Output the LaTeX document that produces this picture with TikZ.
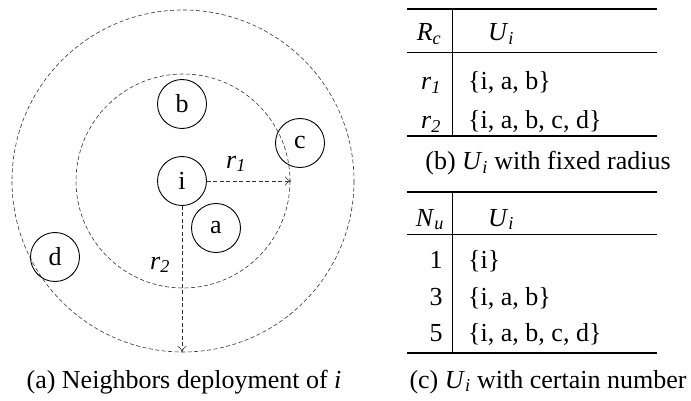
\documentclass[tikz,border=0pt]{standalone}
\usepackage{fontspec}
\setmainfont{Liberation Serif}
\usetikzlibrary{arrows.meta, positioning}

\begin{document}
\begin{tikzpicture}[
    x=1pt, y=-1pt,
    font=\fontsize{26}{30}\selectfont,
    peer/.style={circle, draw, line width=0.9pt, minimum size=49pt, inner sep=0pt},
    reach/.style={draw, dashed, dash pattern=on 4pt off 2.5pt, line width=0.6pt, black!80},
    reacharrow/.style={reach, -{To[length=6pt, width=9pt]}},
    heavyrule/.style={line width=1.6pt},
    lightrule/.style={line width=0.7pt},
    cell/.style={inner sep=0pt, anchor=base},
]
\useasboundingbox (0,0) rectangle (691,401);

% Communication ranges
\draw[reach] (183,181) circle (107);
\draw[reach] (183,181) circle (171);

% Users
\node[peer] (i) at (182,181) {i};
\node[peer] (b) at (182,104) {b};
\node[peer] (c) at (300,143) {c};
\node[peer] (a) at (216,228) {a};
\node[peer] (d) at (55,257) {d};

\coordinate (r1end) at (291,181);
\coordinate (r2end) at (182,352);
\draw[reacharrow] (i) -- (r1end);
\draw[reacharrow] (i) -- (r2end);
\node (r1) at (236,164) {\textit{r}\textsubscript{\textit{1}}};
\node (r2) at (160,265) {\textit{r}\textsubscript{\textit{2}}};

\node (capa) at (184,382) {(a) Neighbors deployment of \textit{i}};

% Table (b): fixed radius
\draw[heavyrule] (407,9) -- (657,9);
\draw[lightrule] (407,52) -- (657,52);
\draw[heavyrule] (407,136) -- (657,136);
\draw[lightrule] (452,9) -- (452,136);
\node[cell] (rc) at (429,41) {\textit{R}\textsubscript{\textit{c}}};
\node[cell] (ub) at (501,41) {\textit{U}\textsubscript{\textit{i}}};
\node[cell] (rowb1) at (431,90) {\textit{r}\textsubscript{\textit{1}}};
\node[cell, anchor=base west] (setb1) at (468,90) {\{i, a, b\}};
\node[cell] (rowb2) at (431,129) {\textit{r}\textsubscript{\textit{2}}};
\node[cell, anchor=base west] (setb2) at (468,129) {\{i, a, b, c, d\}};
\node (capb) at (548,163) {(b) \textit{U}\textsubscript{\textit{i}} with fixed radius};

% Table (c): certain number
\draw[heavyrule] (407,192) -- (657,192);
\draw[lightrule] (407,234) -- (657,234);
\draw[heavyrule] (407,353) -- (657,353);
\draw[lightrule] (452,192) -- (452,353);
\node[cell] (nu) at (430,226) {\textit{N}\textsubscript{\textit{u}}};
\node[cell] (uc) at (501,226) {\textit{U}\textsubscript{\textit{i}}};
\node[cell] (rowc1) at (436,268) {1};
\node[cell, anchor=base west] (setc1) at (468,268) {\{i\}};
\node[cell] (rowc2) at (436,305) {3};
\node[cell, anchor=base west] (setc2) at (468,305) {\{i, a, b\}};
\node[cell] (rowc3) at (436,341) {5};
\node[cell, anchor=base west] (setc3) at (468,341) {\{i, a, b, c, d\}};
\node (capc) at (548,382) {(c) \textit{U}\textsubscript{\textit{i}} with certain number};
\end{tikzpicture}
\end{document}
